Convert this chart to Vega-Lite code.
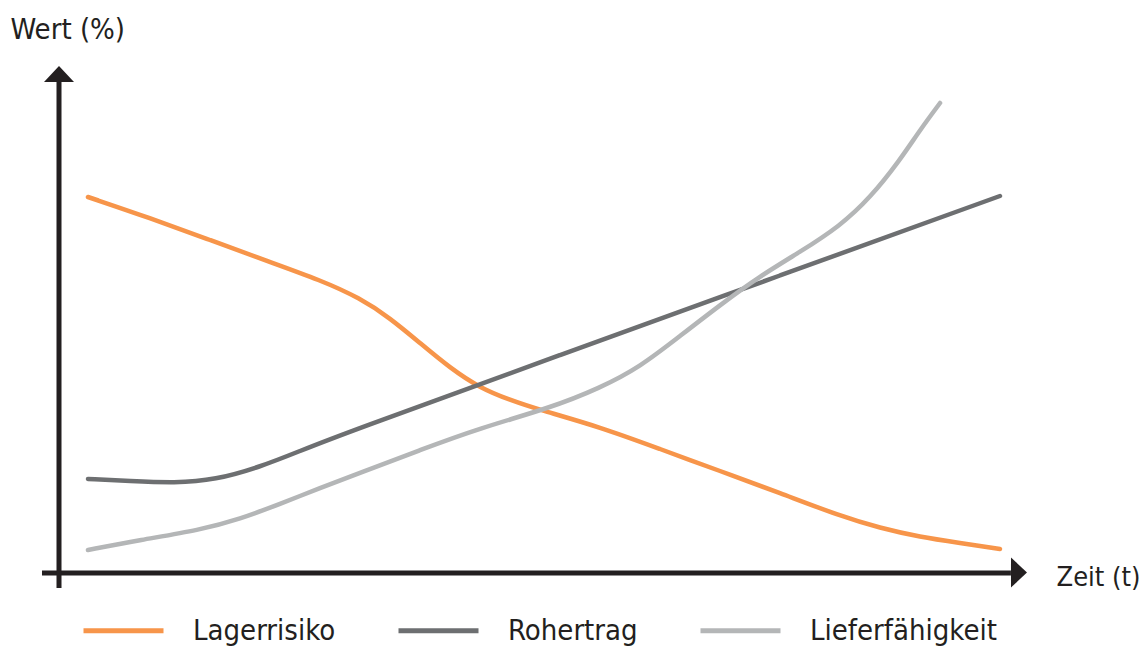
{
  "$schema": "https://vega.github.io/schema/vega-lite/v6.json",
  "width": 950,
  "height": 500,
  "autosize": {"type": "none"},
  "padding": {"left": 59, "top": 73, "right": 134, "bottom": 74},
  "background": "white",
  "config": {
    "view": {"stroke": null},
    "font": "DejaVu Sans Condensed, sans-serif",
    "axis": {"domain": false, "ticks": false, "labels": false, "grid": false}
  },
  "datasets": {
    "series": [
      {"serie": "Lagerrisiko", "t": 3.05, "v": 75.2},
      {"serie": "Lagerrisiko", "t": 9.58, "v": 71.0},
      {"serie": "Lagerrisiko", "t": 15.89, "v": 66.6},
      {"serie": "Lagerrisiko", "t": 22.21, "v": 62.2},
      {"serie": "Lagerrisiko", "t": 27.47, "v": 58.6},
      {"serie": "Lagerrisiko", "t": 31.68, "v": 55.0},
      {"serie": "Lagerrisiko", "t": 34.84, "v": 51.0},
      {"serie": "Lagerrisiko", "t": 38.0, "v": 46.0},
      {"serie": "Lagerrisiko", "t": 41.16, "v": 41.0},
      {"serie": "Lagerrisiko", "t": 44.32, "v": 37.0},
      {"serie": "Lagerrisiko", "t": 47.47, "v": 34.6},
      {"serie": "Lagerrisiko", "t": 50.63, "v": 32.6},
      {"serie": "Lagerrisiko", "t": 56.95, "v": 29.2},
      {"serie": "Lagerrisiko", "t": 63.26, "v": 24.8},
      {"serie": "Lagerrisiko", "t": 69.58, "v": 20.4},
      {"serie": "Lagerrisiko", "t": 75.89, "v": 16.0},
      {"serie": "Lagerrisiko", "t": 82.21, "v": 11.4},
      {"serie": "Lagerrisiko", "t": 86.42, "v": 9.0},
      {"serie": "Lagerrisiko", "t": 90.63, "v": 7.2},
      {"serie": "Lagerrisiko", "t": 94.84, "v": 6.0},
      {"serie": "Lagerrisiko", "t": 99.05, "v": 4.8},
      {"serie": "Rohertrag", "t": 3.05, "v": 18.8},
      {"serie": "Rohertrag", "t": 7.47, "v": 18.4},
      {"serie": "Rohertrag", "t": 12.21, "v": 18.0},
      {"serie": "Rohertrag", "t": 16.42, "v": 18.6},
      {"serie": "Rohertrag", "t": 21.16, "v": 21.2},
      {"serie": "Rohertrag", "t": 25.37, "v": 24.4},
      {"serie": "Rohertrag", "t": 29.58, "v": 27.6},
      {"serie": "Rohertrag", "t": 52.74, "v": 43.6},
      {"serie": "Rohertrag", "t": 75.89, "v": 59.5},
      {"serie": "Rohertrag", "t": 99.05, "v": 75.4},
      {"serie": "Lieferfähigkeit", "t": 3.05, "v": 4.6},
      {"serie": "Lieferfähigkeit", "t": 8.53, "v": 6.6},
      {"serie": "Lieferfähigkeit", "t": 14.84, "v": 8.6},
      {"serie": "Lieferfähigkeit", "t": 19.05, "v": 10.8},
      {"serie": "Lieferfähigkeit", "t": 23.26, "v": 13.8},
      {"serie": "Lieferfähigkeit", "t": 27.47, "v": 17.0},
      {"serie": "Lieferfähigkeit", "t": 31.68, "v": 20.0},
      {"serie": "Lieferfähigkeit", "t": 38.0, "v": 24.6},
      {"serie": "Lieferfähigkeit", "t": 44.32, "v": 29.0},
      {"serie": "Lieferfähigkeit", "t": 51.68, "v": 33.0},
      {"serie": "Lieferfähigkeit", "t": 56.95, "v": 37.0},
      {"serie": "Lieferfähigkeit", "t": 61.16, "v": 41.2},
      {"serie": "Lieferfähigkeit", "t": 65.37, "v": 47.4},
      {"serie": "Lieferfähigkeit", "t": 69.58, "v": 53.6},
      {"serie": "Lieferfähigkeit", "t": 73.79, "v": 59.4},
      {"serie": "Lieferfähigkeit", "t": 78.0, "v": 64.2},
      {"serie": "Lieferfähigkeit", "t": 82.21, "v": 69.4},
      {"serie": "Lieferfähigkeit", "t": 85.37, "v": 75.0},
      {"serie": "Lieferfähigkeit", "t": 88.53, "v": 82.6},
      {"serie": "Lieferfähigkeit", "t": 90.63, "v": 88.6},
      {"serie": "Lieferfähigkeit", "t": 92.74, "v": 94.0}
    ],
    "axes": [
      {"x1": -1.79, "x2": 100.2, "y1": 0, "y2": 0},
      {"x1": 0, "x2": 0, "y1": -3, "y2": 98.2}
    ],
    "arrowX": [{"t": 101.05, "v": 0.1}],
    "arrowY": [{"t": 0, "v": 99.8}]
  },
  "layer": [
    {
      "data": {"name": "axes"},
      "mark": {"type": "rule", "color": "#231f20", "strokeWidth": 5, "strokeCap": "butt"},
      "encoding": {
        "x": {"field": "x1", "type": "quantitative", "scale": {"domain": [0, 100], "nice": false, "zero": false}, "axis": {"title": "Zeit (t)", "titleX": 997, "titleY": 12, "titleAngle": 0, "titleAlign": "left", "titleBaseline": "alphabetic", "titleFontSize": 27, "titleFontWeight": "normal", "titleColor": "#231f20"}},
        "x2": {"field": "x2"},
        "y": {"field": "y1", "type": "quantitative", "scale": {"domain": [0, 100], "nice": false, "zero": false}, "axis": {"title": "Wert (%)", "titleX": -49, "titleY": -35, "titleAngle": 0, "titleAlign": "left", "titleBaseline": "alphabetic", "titleFontSize": 29, "titleFontWeight": "normal", "titleColor": "#231f20"}},
        "y2": {"field": "y2"}
      }
    },
    {
      "data": {"name": "arrowX"},
      "mark": {"type": "point", "shape": "M-0.533,-1L0.533,0L-0.533,1Z", "size": 900, "filled": true, "color": "#231f20", "opacity": 1},
      "encoding": {
        "x": {"field": "t", "type": "quantitative"},
        "y": {"field": "v", "type": "quantitative"}
      }
    },
    {
      "data": {"name": "arrowY"},
      "mark": {"type": "point", "shape": "M-1,0.533L0,-0.533L1,0.533Z", "size": 900, "filled": true, "color": "#231f20", "opacity": 1},
      "encoding": {
        "x": {"field": "t", "type": "quantitative"},
        "y": {"field": "v", "type": "quantitative"}
      }
    },
    {
      "data": {"name": "series"},
      "mark": {"type": "line", "interpolate": "basis", "strokeWidth": 4.5, "strokeCap": "round", "clip": false},
      "encoding": {
        "x": {"field": "t", "type": "quantitative"},
        "y": {"field": "v", "type": "quantitative"},
        "color": {
          "field": "serie",
          "type": "nominal",
          "scale": {"domain": ["Lagerrisiko", "Rohertrag", "Lieferfähigkeit"], "range": ["#f7954a", "#6d6f71", "#b4b6b7"]},
          "legend": {
            "title": null,
            "orient": "none",
            "direction": "horizontal",
            "legendX": 22,
            "legendY": 515,
            "padding": 0,
            "symbolType": "stroke",
            "symbolSize": 6400,
            "symbolStrokeWidth": 5,
            "labelFontSize": 29,
            "labelColor": "#231f20",
            "labelOffset": 27,
            "columnPadding": 52,
            "labelLimit": 400
          }
        }
      }
    }
  ]
}
